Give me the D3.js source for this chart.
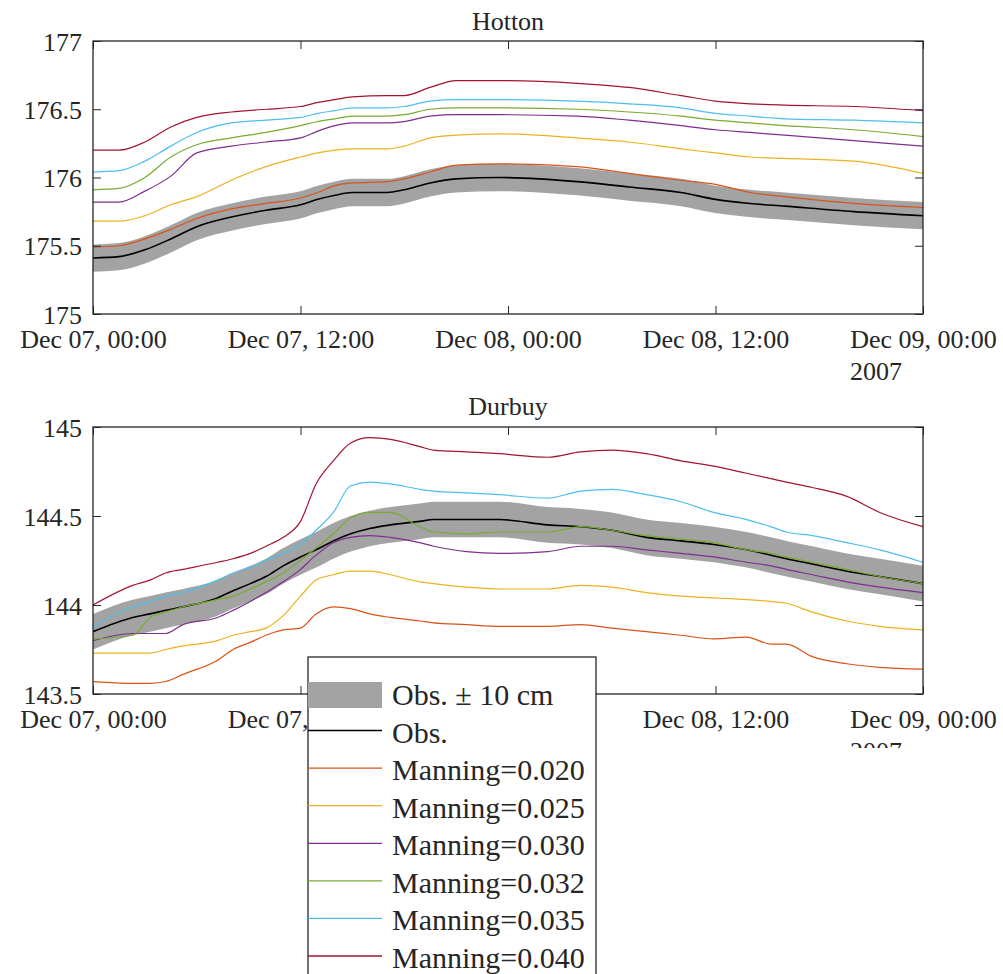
<!DOCTYPE html>
<html><head><meta charset="utf-8">
<script src="https://cdn.jsdelivr.net/npm/d3@7"></script>
</head>
<body style="margin:0;padding:0;background:#fff">
<svg id="chart" width="1003" height="974" style="display:block"></svg>
<script>
// ---------- DATA ----------
const startTime = "2007-12-07T00:00:00Z";
const endTime = "2007-12-09T00:00:00Z";
const xTickHours = [0, 12, 24, 36, 48];
const yearLabel = "2007";
const seriesNames = ["Manning=0.020","Manning=0.025","Manning=0.030","Manning=0.032","Manning=0.035","Manning=0.040"];
const seriesColors = ["#D95319","#EDB120","#7E2F8E","#77AC30","#4DBEEE","#A2142F"];
const bandLabel = "Obs. \u00B1 10 cm";
const obsLabel = "Obs.";
const bandHalfWidth = 0.10;

// Hotton
const hottonTitle = "Hotton";
const hottonYTicks = [175, 175.5, 176, 176.5, 177];
const hottonHours = [0,1.5,3,4.5,6,8,10,12,13,14,15,17,18,19.5,21,23.5,28,31,34,36,38,40,44,48];
const hottonObs  = [175.41,175.42,175.47,175.55,175.64,175.71,175.76,175.80,175.84,175.87,175.89,175.89,175.91,175.96,175.99,176.00,175.97,175.93,175.89,175.84,175.81,175.79,175.75,175.72];
const hotton020 = [175.49,175.50,175.55,175.62,175.70,175.77,175.81,175.85,175.89,175.94,175.96,175.97,175.99,176.04,176.09,176.10,176.08,176.03,175.98,175.95,175.89,175.86,175.81,175.78];
const hotton025 = [175.68,175.68,175.72,175.80,175.86,175.98,176.08,176.15,176.18,176.20,176.21,176.21,176.23,176.29,176.31,176.32,176.29,176.26,176.21,176.18,176.15,176.14,176.12,176.03];
const hotton030 = [175.82,175.82,175.90,176.01,176.18,176.23,176.26,176.29,176.34,176.38,176.40,176.40,176.41,176.45,176.46,176.46,176.45,176.42,176.38,176.35,176.33,176.31,176.27,176.23];
const hotton032 = [175.91,175.92,176.00,176.15,176.24,176.29,176.33,176.38,176.41,176.43,176.45,176.45,176.46,176.50,176.51,176.51,176.50,176.48,176.45,176.42,176.40,176.38,176.35,176.30];
const hotton035 = [176.04,176.05,176.12,176.23,176.33,176.40,176.42,176.44,176.47,176.49,176.51,176.51,176.52,176.56,176.57,176.57,176.56,176.54,176.51,176.47,176.45,176.43,176.42,176.40];
const hotton040 = [176.20,176.20,176.26,176.37,176.44,176.48,176.50,176.52,176.55,176.57,176.59,176.60,176.60,176.66,176.71,176.71,176.69,176.66,176.60,176.56,176.54,176.53,176.52,176.49];

// Durbuy
const durbuyTitle = "Durbuy";
const durbuyYTicks = [143.5, 144, 144.5, 145];
const durbuyHours = [0,2.3,3.3,4.2,5.2,7.2,8.1,9.1,10,11,12,12.9,13.9,14.9,16,17.2,18.9,19.7,21.6,23.5,26.3,28.2,30,32,34,35.9,37.8,39.2,40.1,41.6,43.6,45.5,48];
const durbuyObs = [143.85,143.93,143.95,143.97,143.99,144.04,144.08,144.12,144.16,144.22,144.27,144.31,144.36,144.40,144.43,144.45,144.47,144.48,144.48,144.48,144.45,144.44,144.42,144.38,144.36,144.34,144.31,144.28,144.26,144.23,144.19,144.16,144.12];
const durbuy020 = [143.57,143.56,143.56,143.57,143.61,143.69,143.75,143.79,143.83,143.86,143.87,143.95,143.99,143.98,143.95,143.93,143.91,143.90,143.89,143.88,143.88,143.89,143.87,143.85,143.83,143.81,143.82,143.78,143.78,143.71,143.67,143.65,143.64];
const durbuy025 = [143.73,143.73,143.73,143.75,143.77,143.80,143.83,143.85,143.87,143.94,144.05,144.14,144.17,144.19,144.19,144.17,144.13,144.12,144.10,144.09,144.09,144.11,144.10,144.07,144.05,144.04,144.03,144.02,144.01,143.96,143.91,143.88,143.86];
const durbuy030 = [143.80,143.84,143.84,143.84,143.89,143.93,143.97,144.02,144.07,144.13,144.20,144.28,144.35,144.38,144.39,144.38,144.35,144.33,144.30,144.29,144.30,144.33,144.33,144.31,144.29,144.27,144.24,144.22,144.20,144.17,144.13,144.10,144.07];
const durbuy032 = [143.81,143.83,143.93,143.96,143.99,144.03,144.05,144.09,144.13,144.18,144.25,144.32,144.40,144.49,144.52,144.52,144.44,144.41,144.40,144.41,144.41,144.44,144.42,144.39,144.37,144.35,144.31,144.29,144.27,144.24,144.20,144.16,144.12];
const durbuy035 = [143.88,143.99,144.02,144.05,144.07,144.14,144.18,144.21,144.25,144.29,144.34,144.42,144.52,144.67,144.69,144.68,144.65,144.64,144.63,144.62,144.60,144.64,144.65,144.62,144.58,144.52,144.48,144.44,144.41,144.39,144.35,144.31,144.24];
const durbuy040 = [144.00,144.11,144.14,144.18,144.20,144.24,144.26,144.29,144.33,144.38,144.47,144.68,144.81,144.91,144.94,144.93,144.89,144.87,144.86,144.85,144.83,144.86,144.87,144.85,144.81,144.78,144.74,144.71,144.69,144.66,144.61,144.52,144.44];

// ---------- DRAWING ----------
const svg = d3.select("#chart");
const t0 = new Date(startTime), t1 = new Date(endTime);
const hourToDate = h => new Date(t0.getTime() + h * 3600e3);
const fmt = d3.utcFormat("%b %d, %H:%M");
const axisColor = "#262626";
const tickFont = 26;
const serif = "Liberation Serif";

const x = d3.scaleUtc().domain([t0, t1]).range([93, 923]);

function txt(sel) {
  return sel.attr("font-family", serif).attr("fill", axisColor).attr("stroke", "none");
}

function panel(opts) {
  const {top, bottom, yDomain, yTicks, title, titleY, hours, obs, series, clipYear} = opts;
  const y = d3.scaleLinear().domain(yDomain).range([bottom, top]);
  const g = svg.append("g");
  const pts = hours.map((h, i) => ({t: hourToDate(h), i}));

  const area = d3.area().x(d => x(d.t)).y0(d => y(obs[d.i] - bandHalfWidth)).y1(d => y(obs[d.i] + bandHalfWidth)).curve(d3.curveMonotoneX);
  const clipId = "clip" + Math.round(top);
  svg.append("clipPath").attr("id", clipId).append("rect").attr("x", x.range()[0]).attr("y", top).attr("width", x.range()[1]-x.range()[0]).attr("height", bottom-top);
  const plot = g.append("g").attr("clip-path", `url(#${clipId})`);
  plot.append("path").datum(pts).attr("d", area).attr("fill", "#a3a3a3").attr("stroke", "none");

  const lineFor = arr => d3.line().x(d => x(d.t)).y(d => y(arr[d.i])).curve(d3.curveMonotoneX)(pts);
  plot.append("path").attr("d", lineFor(obs)).attr("fill", "none").attr("stroke", "#000").attr("stroke-width", 1.6);
  series.forEach((s, k) => {
    plot.append("path").attr("d", lineFor(s)).attr("fill", "none").attr("stroke", seriesColors[k]).attr("stroke-width", 1.2);
  });

  const xTickVals = xTickHours.map(hourToDate);
  const xb = g.append("g").attr("transform", `translate(0,${bottom})`)
    .call(d3.axisBottom(x).tickValues(xTickVals).tickFormat(fmt).tickSizeInner(-8).tickSizeOuter(0));
  xb.attr("font-family", serif).attr("font-size", tickFont);
  xb.select(".domain").remove();
  xb.selectAll("line").attr("stroke", axisColor);
  txt(xb.selectAll("text")).attr("y", 34).attr("dy", 0).attr("font-size", tickFont);
  const xt = g.append("g").attr("transform", `translate(0,${top})`)
    .call(d3.axisTop(x).tickValues(xTickVals).tickFormat("").tickSizeInner(-8).tickSizeOuter(0));
  xt.select(".domain").remove();
  xt.selectAll("line").attr("stroke", axisColor);
  const yl = g.append("g").attr("transform", `translate(${x.range()[0]},0)`)
    .call(d3.axisLeft(y).tickValues(yTicks).tickFormat(d3.format("")).tickSizeInner(-8).tickSizeOuter(0));
  yl.attr("font-family", serif).attr("font-size", tickFont);
  yl.select(".domain").remove();
  yl.selectAll("line").attr("stroke", axisColor);
  txt(yl.selectAll("text")).attr("x", -11).attr("dy", "0.35em").attr("font-size", tickFont);
  const yr = g.append("g").attr("transform", `translate(${x.range()[1]},0)`)
    .call(d3.axisRight(y).tickValues(yTicks).tickFormat("").tickSizeInner(-8).tickSizeOuter(0));
  yr.select(".domain").remove();
  yr.selectAll("line").attr("stroke", axisColor);
  g.append("rect").attr("x", x.range()[0]).attr("y", top).attr("width", x.range()[1]-x.range()[0]).attr("height", bottom-top)
    .attr("fill", "none").attr("stroke", axisColor).attr("stroke-width", 1.3);
  const yearG = g.append("g");
  if (clipYear != null) {
    const cid = "yclip" + Math.round(top);
    svg.append("clipPath").attr("id", cid).append("rect").attr("x", 0).attr("y", 0).attr("width", 1003).attr("height", clipYear);
    yearG.attr("clip-path", `url(#${cid})`);
  }
  txt(yearG.append("text")).attr("x", 850).attr("y", bottom + 66).attr("font-size", tickFont).text(yearLabel);
  txt(g.append("text")).attr("x", (x.range()[0]+x.range()[1])/2).attr("y", titleY).attr("text-anchor", "middle")
    .attr("font-size", tickFont).text(title);
}

panel({top: 41, bottom: 314, yDomain: [175, 177], yTicks: hottonYTicks, title: hottonTitle, titleY: 30,
  hours: hottonHours, obs: hottonObs, series: [hotton020, hotton025, hotton030, hotton032, hotton035, hotton040]});
panel({top: 427, bottom: 694, yDomain: [143.5, 145], yTicks: durbuyYTicks, title: durbuyTitle, titleY: 415,
  hours: durbuyHours, obs: durbuyObs, series: [durbuy020, durbuy025, durbuy030, durbuy032, durbuy035, durbuy040], clipYear: 748});

const lg = svg.append("g");
const lx = 308, ly = 657, lw = 288;
lg.append("rect").attr("x", lx).attr("y", ly).attr("width", lw).attr("height", 974 - ly + 5)
  .attr("fill", "#fff").attr("stroke", axisColor).attr("stroke-width", 1.3);
const legendItems = [{label: bandLabel, type: "band"}, {label: obsLabel, type: "line", color: "#000"}]
  .concat(seriesNames.map((n, k) => ({label: n, type: "line", color: seriesColors[k]})));
const rowY = d3.scaleLinear().domain([0, legendItems.length - 1]).range([705, 968]);
legendItems.forEach((it, i) => {
  const by = rowY(i);
  if (it.type === "band") {
    lg.append("rect").attr("x", lx).attr("y", by - 23).attr("width", 74).attr("height", 26).attr("fill", "#a3a3a3");
  } else {
    lg.append("line").attr("x1", lx).attr("x2", lx + 74).attr("y1", by - 12).attr("y2", by - 12)
      .attr("stroke", it.color).attr("stroke-width", it.color === "#000" ? 1.6 : 1.3);
  }
  txt(lg.append("text")).attr("x", lx + 84).attr("y", by).attr("font-size", 30).text(it.label);
});
</script>
</body></html>
